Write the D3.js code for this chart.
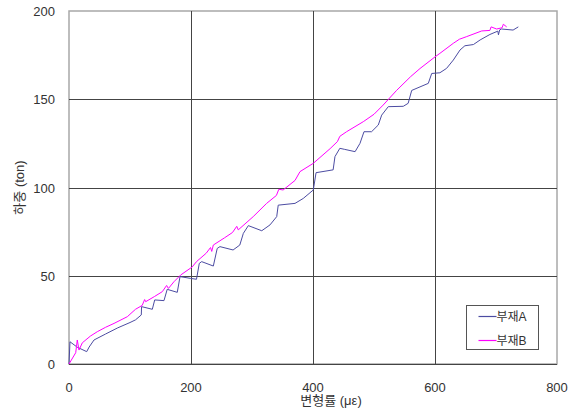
<!DOCTYPE html>
<html>
<head>
<meta charset="utf-8">
<script src="https://cdn.jsdelivr.net/npm/d3@7"></script>
<style>
  body { margin: 0; background: #fff; }
  text { font-family: "Liberation Sans", "Noto Sans CJK KR", sans-serif; fill: #333; }
</style>
</head>
<body>
<script>
// tick labels
const xTicks = [0, 200, 400, 600, 800];
const yTicks = [0, 50, 100, 150, 200];
const seriesNames = ["부재A", "부재B"];
const seriesColors = ["#4c4ca2", "#ff00ff"];

// 부재A (strain, load)
const strainA = [0, 1.6, 13.6, 29, 33, 41, 60, 80, 100, 109, 118.5, 119, 136.6, 140.5, 155.7, 161, 177.5, 182, 199.5, 209, 213.6, 217.5, 236.6, 243, 247.5, 269, 280, 285.8, 294, 316, 329.5, 340.5, 343, 370.5, 384, 400.5, 405, 433, 436, 444, 452, 469, 477, 483.6, 496, 507, 512.6, 523.4, 548, 556, 561.8, 575.4, 589, 594.6, 608, 619, 630, 641, 649, 663, 674, 690, 703, 704, 706, 709, 728, 736.6];
const loadA = [0, 12.6, 9.5, 7, 9.6, 13.6, 17, 20.5, 23.5, 25, 27.8, 32.5, 31, 36.3, 35.9, 42.3, 40.6, 49.5, 48.5, 48, 57, 58, 55.5, 65.5, 66.5, 64.6, 67.4, 74, 78.4, 75.5, 78.8, 83.5, 90, 91, 93.8, 98.6, 108.4, 110, 117.5, 122.2, 121.6, 120.3, 125, 131.6, 131.6, 135.4, 141, 145.8, 146, 147.7, 155, 157, 159, 164.6, 165, 167.5, 172.2, 177.9, 180.3, 181, 183.6, 186.7, 188.6, 186.5, 189.3, 189.8, 189.2, 191];

// 부재B (strain, load)
const strainB = [0, 11, 13.6, 16.4, 21.8, 35, 46.4, 60, 73.8, 95.6, 109, 120, 124, 125.7, 140, 153, 160, 163, 172, 183, 202, 209, 225, 232, 234, 236.6, 255, 268, 275, 277.5, 302, 324, 340, 344, 351, 370.5, 378.7, 400.5, 428, 440, 444, 455, 482.5, 500, 515, 537, 560, 575.4, 600, 608, 630, 640, 652, 676.6, 690, 692, 701, 710, 712, 717.5];
const loadB = [0, 6.4, 13.6, 7.9, 12, 15.8, 18.3, 20.8, 23, 26.8, 31, 33.2, 36.5, 35.3, 38.2, 41, 44.5, 42.8, 46.6, 50.4, 55, 58, 62.8, 66, 63.8, 67.4, 71.5, 74.5, 78, 76, 83.5, 91, 95.5, 99, 98.6, 104, 109, 113.7, 122, 126, 129, 131.6, 137.3, 141.5, 146.7, 155, 162.8, 167.4, 174, 176, 181.7, 184, 185.5, 188.7, 189, 191, 189.8, 190.5, 192.5, 191];

const width = 580, height = 410;
const margin = { left: 69, top: 11, right: 23, bottom: 46 };

const svg = d3.select("body").append("svg")
  .attr("width", width)
  .attr("height", height);

const x = d3.scaleLinear().domain([0, 800]).range([margin.left, width - margin.right]);
const y = d3.scaleLinear().domain([0, 200]).range([height - margin.bottom, margin.top]);

// plot border
svg.append("rect")
  .attr("x", x(0))
  .attr("y", y(200))
  .attr("width", x(800) - x(0))
  .attr("height", y(0) - y(200))
  .attr("fill", "none")
  .attr("stroke", "#a8a8a8")
  .attr("stroke-width", 1.5);

// grid
svg.selectAll(".hgrid")
  .data(yTicks.slice(1, -1))
  .join("line")
  .attr("x1", x(0)).attr("x2", x(800))
  .attr("y1", d => Math.round(y(d)) + 0.5)
  .attr("y2", d => Math.round(y(d)) + 0.5)
  .attr("stroke", "#444");

svg.selectAll(".vgrid")
  .data(xTicks.slice(1, -1))
  .join("line")
  .attr("y1", y(0)).attr("y2", y(200))
  .attr("x1", d => Math.round(x(d)) + 0.5)
  .attr("x2", d => Math.round(x(d)) + 0.5)
  .attr("stroke", "#444");

// bottom axis line
svg.append("line")
  .attr("x1", x(0)).attr("x2", x(800))
  .attr("y1", Math.round(y(0)) + 0.5).attr("y2", Math.round(y(0)) + 0.5)
  .attr("stroke", "#444");

// tick labels
svg.selectAll(".xlab")
  .data(xTicks)
  .join("text")
  .attr("x", d => x(d))
  .attr("y", y(0) + 28)
  .attr("text-anchor", "middle")
  .style("font-size", "13px")
  .text(d => d);

svg.selectAll(".ylab")
  .data(yTicks)
  .join("text")
  .attr("x", x(0) - 14)
  .attr("y", d => y(d) + 5)
  .attr("text-anchor", "end")
  .style("font-size", "13px")
  .text(d => d);

// axis titles
svg.append("text")
  .attr("x", 331)
  .attr("y", 405)
  .attr("text-anchor", "middle")
  .style("font-size", "13px")
  .text("변형률 (με)");

svg.append("text")
  .attr("transform", "translate(24," + ((y(0) + y(200)) / 2) + ") rotate(-90)")
  .attr("text-anchor", "middle")
  .style("font-size", "13px")
  .text("하중 (ton)");

// series
const line = d3.line()
  .x(d => x(d[0]))
  .y(d => y(d[1]));

const seriesData = [
  d3.zip(strainA, loadA),
  d3.zip(strainB, loadB)
];

svg.selectAll(".series")
  .data(seriesData)
  .join("path")
  .attr("d", line)
  .attr("fill", "none")
  .attr("stroke", (d, i) => seriesColors[i])
  .attr("stroke-width", 1)
  .attr("stroke-linejoin", "round");

// legend
const legend = svg.append("g").attr("transform", "translate(466.5,305.5)");
legend.append("rect")
  .attr("width", 72).attr("height", 44)
  .attr("fill", "#fff")
  .attr("stroke", "#555");

const items = legend.selectAll(".item")
  .data(seriesNames)
  .join("g")
  .attr("transform", (d, i) => "translate(0," + (11 + i * 24) + ")");

items.append("line")
  .attr("x1", 12).attr("x2", 30)
  .attr("stroke", (d, i) => seriesColors[i])
  .attr("stroke-width", 1.2);

items.append("text")
  .attr("x", 30)
  .attr("y", 4.5)
  .style("font-size", "12px")
  .text(d => d);
</script>
</body>
</html>
